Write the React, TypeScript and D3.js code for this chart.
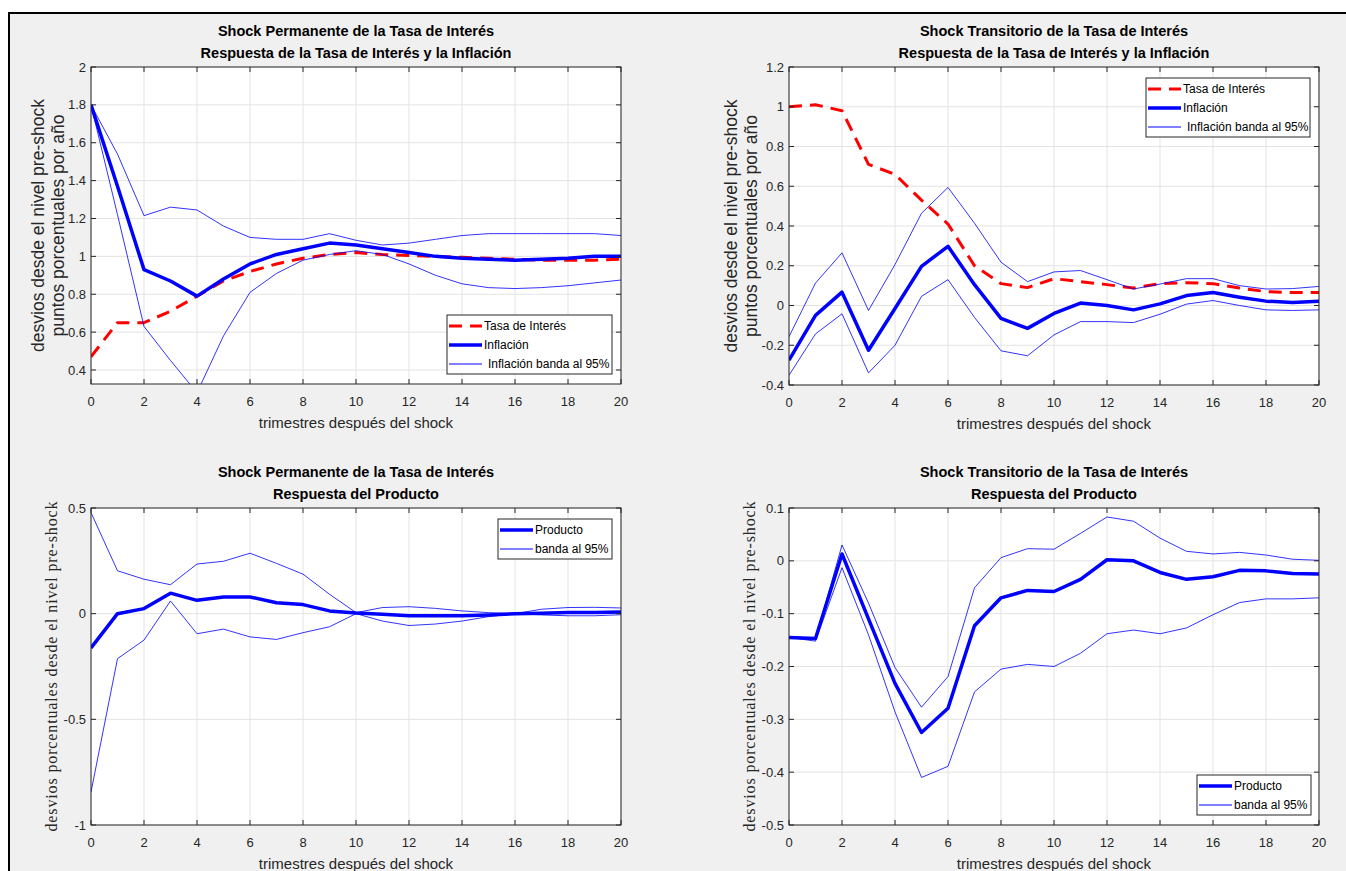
import React from "react";
import * as d3 from "d3";

// trimestres
const quarters = [0, 1, 2, 3, 4, 5, 6, 7, 8, 9, 10, 11, 12, 13, 14, 15, 16, 17, 18, 19, 20];
const xTicks = [0, 2, 4, 6, 8, 10, 12, 14, 16, 18, 20];

// shock permanente - tasa e inflacion
const permTasa = [0.47, 0.65, 0.65, 0.71, 0.79, 0.87, 0.92, 0.96, 0.99, 1.01, 1.02, 1.01, 1.005, 1.0, 0.995, 0.99, 0.985, 0.98, 0.98, 0.98, 0.985];
const permInfl = [1.8, 1.37, 0.93, 0.87, 0.79, 0.88, 0.96, 1.01, 1.04, 1.07, 1.06, 1.04, 1.02, 1.0, 0.99, 0.985, 0.98, 0.985, 0.99, 1.0, 1.0];
const permInflHi = [1.8, 1.54, 1.215, 1.26, 1.245, 1.16, 1.1, 1.09, 1.09, 1.12, 1.085, 1.06, 1.07, 1.09, 1.11, 1.12, 1.12, 1.12, 1.12, 1.12, 1.11];
const permInflLo = [1.8, 1.22, 0.63, 0.45, 0.28, 0.58, 0.81, 0.91, 0.98, 1.01, 1.03, 1.01, 0.96, 0.9, 0.855, 0.835, 0.83, 0.835, 0.845, 0.86, 0.875];

// shock transitorio - tasa e inflacion
const tranTasa = [1.0, 1.01, 0.98, 0.71, 0.66, 0.53, 0.41, 0.2, 0.11, 0.09, 0.135, 0.12, 0.105, 0.088, 0.11, 0.115, 0.11, 0.088, 0.07, 0.065, 0.065];
const tranInfl = [-0.275, -0.05, 0.067, -0.225, -0.015, 0.197, 0.298, 0.105, -0.065, -0.115, -0.04, 0.012, 0.0, -0.022, 0.008, 0.05, 0.065, 0.042, 0.022, 0.015, 0.022];
const tranInflHi = [-0.157, 0.113, 0.265, -0.025, 0.206, 0.464, 0.594, 0.414, 0.218, 0.12, 0.169, 0.176, 0.13, 0.083, 0.108, 0.135, 0.135, 0.1, 0.083, 0.085, 0.096];
const tranInflLo = [-0.351, -0.143, -0.042, -0.339, -0.2, 0.046, 0.13, -0.06, -0.228, -0.253, -0.148, -0.081, -0.081, -0.086, -0.044, 0.007, 0.025, 0.0, -0.022, -0.025, -0.022];

// shock permanente - producto
const permProd = [-0.162, 0.0, 0.024, 0.097, 0.063, 0.079, 0.079, 0.052, 0.043, 0.013, 0.003, -0.003, -0.01, -0.01, -0.01, -0.006, 0.0, 0.002, 0.005, 0.006, 0.008];
const permProdHi = [0.478, 0.203, 0.163, 0.137, 0.235, 0.248, 0.286, 0.238, 0.187, 0.092, 0.005, 0.029, 0.033, 0.025, 0.013, 0.005, 0.0, 0.021, 0.029, 0.03, 0.027];
const permProdLo = [-0.844, -0.213, -0.125, 0.06, -0.095, -0.073, -0.11, -0.122, -0.09, -0.062, 0.0, -0.035, -0.056, -0.049, -0.035, -0.014, 0.0, -0.006, -0.01, -0.01, -0.005];

// shock transitorio - producto
const tranProd = [-0.145, -0.147, 0.013, -0.11, -0.232, -0.325, -0.279, -0.123, -0.07, -0.056, -0.058, -0.035, 0.002, 0.0, -0.022, -0.035, -0.03, -0.018, -0.019, -0.024, -0.025];
const tranProdHi = [-0.143, -0.149, 0.03, -0.08, -0.202, -0.277, -0.219, -0.051, 0.006, 0.023, 0.022, 0.052, 0.083, 0.075, 0.043, 0.018, 0.013, 0.016, 0.011, 0.003, 0.001];
const tranProdLo = [-0.145, -0.152, -0.013, -0.14, -0.286, -0.41, -0.389, -0.248, -0.205, -0.196, -0.2, -0.175, -0.138, -0.131, -0.138, -0.127, -0.102, -0.079, -0.072, -0.072, -0.07];

const yTicks1 = [0.4, 0.6, 0.8, 1, 1.2, 1.4, 1.6, 1.8, 2];
const yTicks2 = [-0.4, -0.2, 0, 0.2, 0.4, 0.6, 0.8, 1, 1.2];
const yTicks3 = [-1, -0.5, 0, 0.5];
const yTicks4 = [-0.5, -0.4, -0.3, -0.2, -0.1, 0, 0.1];

const titlePerm = "Shock Permanente de la Tasa de Interés";
const titleTran = "Shock Transitorio de la Tasa de Interés";
const subTasa = "Respuesta de la Tasa de Interés y la Inflación";
const subProd = "Respuesta del Producto";
const xLabel = "trimestres después del shock";
const yLab1 = ["desvios desde el nivel pre-shock", "puntos porcentuales por año"];
const yLabProd = "desvios porcentuales desde el nivel pre-shock";

const AX = "#262626";
const SANS = "Arial, 'Liberation Sans', Helvetica, sans-serif";

type Series = { values: number[]; color: string; width: number; dash?: string };
type Entry = { label: string; color: string; width: number; dash?: string };

function Panel(props: {
  id: string;
  x0: number; y0: number; w: number; h: number;
  yDomain: [number, number];
  yTicks: number[];
  titles: string[];
  yLabels?: string[];
  yLabelOffsets?: number[];
  serifLabel?: string;
  series: Series[];
  legend: { entries: Entry[]; x: number; y: number; w: number; textPad?: number[] };
}) {
  const { id, x0, y0, w, h, yDomain, yTicks, titles, series, legend } = props;
  const x = d3.scaleLinear().domain([0, 20]).range([x0, x0 + w]);
  const y = d3.scaleLinear().domain(yDomain).range([y0 + h, y0]);
  const line = d3.line<number>().x((_, i) => x(quarters[i])).y((d) => y(d));
  const fmt = (v: number) => String(+v.toFixed(2));
  const cx = x0 + w / 2;
  const rowH = 19;
  const legH = legend.entries.length * rowH + 2;

  return (
    <g>
      <defs>
        <clipPath id={id}>
          <rect x={x0} y={y0} width={w} height={h} />
        </clipPath>
      </defs>
      <rect x={x0} y={y0} width={w} height={h} fill="#fff" />
      {/* grid */}
      {xTicks.map((t) => (
        <line key={"gx" + t} x1={x(t)} x2={x(t)} y1={y0} y2={y0 + h} stroke="#e3e3e3" strokeWidth={1} />
      ))}
      {yTicks.map((t) => (
        <line key={"gy" + t} x1={x0} x2={x0 + w} y1={y(t)} y2={y(t)} stroke="#e3e3e3" strokeWidth={1} />
      ))}
      {/* series */}
      <g clipPath={`url(#${id})`}>
        {series.map((s, i) => (
          <path key={i} d={line(s.values) || ""} fill="none" stroke={s.color} strokeWidth={s.width}
            strokeDasharray={s.dash} strokeLinejoin="round" />
        ))}
      </g>
      {/* box + ticks */}
      <rect x={x0} y={y0} width={w} height={h} fill="none" stroke={AX} strokeWidth={1} />
      {xTicks.map((t) => (
        <g key={"tx" + t}>
          <line x1={x(t)} x2={x(t)} y1={y0 + h} y2={y0 + h - 5} stroke={AX} />
          <line x1={x(t)} x2={x(t)} y1={y0} y2={y0 + 5} stroke={AX} />
          <text x={x(t)} y={y0 + h + 22} textAnchor="middle" fontSize={13} fill={AX} fontFamily={SANS}>{t}</text>
        </g>
      ))}
      {yTicks.map((t) => (
        <g key={"ty" + t}>
          <line x1={x0} x2={x0 + 5} y1={y(t)} y2={y(t)} stroke={AX} />
          <line x1={x0 + w} x2={x0 + w - 5} y1={y(t)} y2={y(t)} stroke={AX} />
          <text x={x0 - 5} y={y(t)} dy="0.35em" textAnchor="end" fontSize={13} fill={AX} fontFamily={SANS}>{fmt(t)}</text>
        </g>
      ))}
      {/* titles */}
      {titles.map((t, i) => (
        <text key={"t" + i} x={cx} y={y0 - 31 + i * 22} textAnchor="middle" fontSize={14.5} fontWeight="bold" fill="#000" fontFamily={SANS}>{t}</text>
      ))}
      <text x={cx} y={y0 + h + 44} textAnchor="middle" fontSize={15} fill={AX} fontFamily={SANS}>{xLabel}</text>
      {props.yLabels && props.yLabels.map((t, i) => (
        <text key={"yl" + i} transform={`translate(${x0 - props.yLabelOffsets![i]},${y0 + h / 2}) rotate(-90)`}
          dy="0.35em" textAnchor="middle" fontSize={17.5} fill={AX} fontFamily={SANS}>{t}</text>
      ))}
      {props.serifLabel && (
        <text transform={`translate(${x0 - 39},${y0 + h / 2}) rotate(-90)`} dy="0.3em" textAnchor="middle"
          fontSize={16} fill={AX} fontFamily="'Liberation Serif', 'DejaVu Serif', serif"
          textLength={330} lengthAdjust="spacing">{props.serifLabel}</text>
      )}
      {/* legend */}
      <g>
        <rect x={legend.x} y={legend.y} width={legend.w} height={legH} fill="#fff" stroke={AX} strokeWidth={1} />
        {legend.entries.map((e, i) => {
          const ry = legend.y + 11 + i * rowH;
          return (
            <g key={"le" + i}>
              <line x1={legend.x + 2} x2={legend.x + 35} y1={ry} y2={ry} stroke={e.color} strokeWidth={e.width}
                strokeDasharray={e.dash} />
              <text x={legend.x + 37 + (legend.textPad ? legend.textPad[i] : 0)} y={ry} dy="0.35em" fontSize={12}
                fill="#000" fontFamily={SANS}>{e.label}</text>
            </g>
          );
        })}
      </g>
    </g>
  );
}

export default function App() {
  const red = "#ff0000";
  const blue = "#0000ff";
  const thinBlue = "rgba(0,0,255,0.8)";
  const dash = "13,8";
  const tasaEntries: Entry[] = [
    { label: "Tasa de Interés", color: red, width: 3, dash: "13,8" },
    { label: "Inflación", color: blue, width: 3.5 },
    { label: "Inflación banda al 95%", color: blue, width: 1 },
  ];
  const prodEntries: Entry[] = [
    { label: "Producto", color: blue, width: 3.5 },
    { label: "banda al 95%", color: blue, width: 1 },
  ];
  return (
    <div style={{ position: "absolute", left: 0, top: 0 }}>
      <svg width={1346} height={871} style={{ display: "block" }}>
        <rect x={0} y={0} width={1346} height={871} fill="#fff" />
        <rect x={9} y={13} width={1346} height={870} fill="#f0f0f0" stroke="#000" strokeWidth={2} />
        <Panel id="c1" x0={91} y0={67} w={530} h={317} yDomain={[0.326, 2]} yTicks={yTicks1}
          titles={[titlePerm, subTasa]} yLabels={yLab1} yLabelOffsets={[53, 33]}
          series={[
            { values: permTasa, color: red, width: 3, dash },
            { values: permInfl, color: blue, width: 3.5 },
            { values: permInflHi, color: thinBlue, width: 1 },
            { values: permInflLo, color: thinBlue, width: 1 },
          ]}
          legend={{ entries: tasaEntries, x: 447, y: 315, w: 165, textPad: [0, 0, 4] }} />
        <Panel id="c2" x0={789} y0={67} w={530} h={318} yDomain={[-0.4, 1.2]} yTicks={yTicks2}
          titles={[titleTran, subTasa]} yLabels={yLab1} yLabelOffsets={[58, 38]}
          series={[
            { values: tranTasa, color: red, width: 3, dash },
            { values: tranInfl, color: blue, width: 3.5 },
            { values: tranInflHi, color: thinBlue, width: 1 },
            { values: tranInflLo, color: thinBlue, width: 1 },
          ]}
          legend={{ entries: tasaEntries, x: 1146, y: 78, w: 164, textPad: [0, 0, 4] }} />
        <Panel id="c3" x0={91} y0={508} w={530} h={317} yDomain={[-1, 0.5]} yTicks={yTicks3}
          titles={[titlePerm, subProd]} serifLabel={yLabProd}
          series={[
            { values: permProd, color: blue, width: 3.5 },
            { values: permProdHi, color: thinBlue, width: 1 },
            { values: permProdLo, color: thinBlue, width: 1 },
          ]}
          legend={{ entries: prodEntries, x: 498, y: 519, w: 114 }} />
        <Panel id="c4" x0={789} y0={508} w={530} h={317} yDomain={[-0.5, 0.1]} yTicks={yTicks4}
          titles={[titleTran, subProd]} serifLabel={yLabProd}
          series={[
            { values: tranProd, color: blue, width: 3.5 },
            { values: tranProdHi, color: thinBlue, width: 1 },
            { values: tranProdLo, color: thinBlue, width: 1 },
          ]}
          legend={{ entries: prodEntries, x: 1197, y: 775, w: 114 }} />
      </svg>
    </div>
  );
}
